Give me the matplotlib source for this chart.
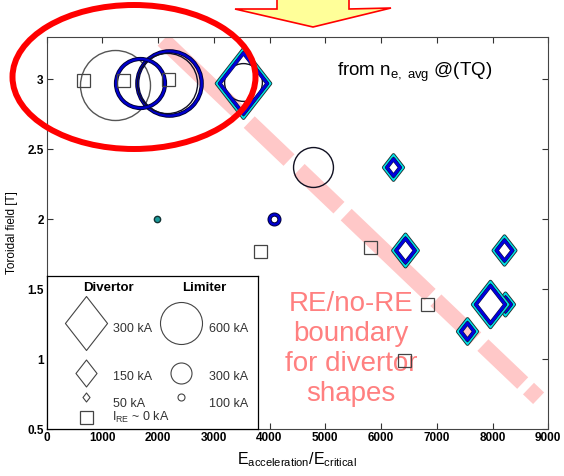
import matplotlib
matplotlib.use("Agg")
import matplotlib.pyplot as plt
import matplotlib.patches as patches
from matplotlib.path import Path

plt.rcParams['font.family'] = ['Liberation Sans', 'DejaVu Sans']
plt.rcParams['mathtext.fontset'] = 'custom'
plt.rcParams['mathtext.rm'] = 'Liberation Sans'
plt.rcParams['mathtext.it'] = 'Liberation Sans:italic'

# limiter shots (circles), size ~ I_RE in kA
lim_x = [1230, 2200, 2163, 1680, 3520, 4780, 4083, 1984]
lim_y = [2.96, 2.97, 2.97, 2.97, 2.98, 2.37, 2.00, 2.00]
lim_ka = [1000, 980, 860, 760, 540, 570, 200, 90]
lim_kind = ['thin', 'bold', 'thin', 'bold', 'thin', 'thin', 'bold', 'dot']

# divertor shots (diamonds); the 8230 one sits behind the 7950 one
div_x = [3520, 6215, 6436, 8214, 8230, 7950, 7544]
div_y = [2.97, 2.37, 1.78, 1.78, 1.39, 1.39, 1.20]
div_ka = [400, 155, 195, 175, 140, 270, 155]
div_fill = ['none', 'none', 'none', 'none', 'none', 'white', 'none']

# shots with I_RE ~ 0
zero_x = [650, 1373, 2180, 3833, 5795, 6826, 6406]
zero_y = [2.99, 2.99, 3.00, 1.77, 1.80, 1.39, 0.99]

# hand drawn RE/no-RE boundary
bound_x = [2092, 8878]
bound_y = [3.279, 0.70]

xticks = [0, 1000, 2000, 3000, 4000, 5000, 6000, 7000, 8000, 9000]
yticks = [0.5, 1, 1.5, 2, 2.5, 3]

PX = 0.72  # points per pixel at dpi 100
DIA_PX_PER_KA = 0.18
CIR_PX_PER_KA = 0.07

diamond = Path([(0, 1), (0.78, 0), (0, -1), (-0.78, 0), (0, 1)],
               [Path.MOVETO, Path.LINETO, Path.LINETO, Path.LINETO, Path.CLOSEPOLY])

fig = plt.figure(figsize=(5.64, 4.76), dpi=100)
ax = fig.add_axes([46.5 / 564, 47 / 476, 501.8 / 564, 392 / 476])
ax.set_xlim(0, 9000)
ax.set_ylim(0.5, 3.3)

# boundary line (under the markers)
lw = 11.5
dash_px = [105, 14, 55, 14, 55, 10, 116, 8, 55, 10, 55, 8, 14, 60]
ax.plot(bound_x, bound_y, color='#ffc8c8', lw=lw, solid_capstyle='butt',
        dash_capstyle='butt', dashes=[d * PX / lw for d in dash_px], zorder=1)

for x, y, ka, kind in zip(lim_x, lim_y, lim_ka, lim_kind):
    s = ka * CIR_PX_PER_KA * PX
    if kind == 'thin':
        col = '#555555' if ka >= 1000 else '#111122'
        ax.plot(x, y, 'o', ms=s, mfc='none', mec=col, mew=1.0, zorder=3)
    elif kind == 'bold':
        ax.plot(x, y, 'o', ms=s - 3, mfc='none', mec='#000033', mew=3.0, zorder=3)
        ax.plot(x, y, 'o', ms=s - 3, mfc='none', mec='#0000cc', mew=1.7, zorder=3)
    else:
        ax.plot(x, y, 'o', ms=s, mfc='#1a9a9a', mec='#113333', mew=1.0, zorder=3)

for x, y, ka, fc in zip(div_x, div_y, div_ka, div_fill):
    s = ka * DIA_PX_PER_KA * PX
    ax.plot(x, y, marker=diamond, ms=s - 2, mfc=fc, mec='#203030', mew=2.6, zorder=3)
    ax.plot(x, y, marker=diamond, ms=s - 2, mfc='none', mec='#00e0e8', mew=1.3, zorder=3)
    ax.plot(x, y, marker=diamond, ms=s - 8, mfc='none', mec='#101040', mew=2.8, zorder=3)
    ax.plot(x, y, marker=diamond, ms=s - 8, mfc='none', mec='#0000dd', mew=2.0, zorder=3)

ax.plot(zero_x, zero_y, 's', ms=13 * PX, mfc='none', mec='#444444', mew=0.9,
        ls='none', zorder=4)

ax.text(5215, 3.02, r'from n$_{\mathrm{e,\ avg}}$ @(TQ)', fontsize=13.5, ha='left',
        va='baseline')
ax.text(5467, 1.07, 'RE/no-RE\nboundary\nfor divertor\nshapes', color='#ff8080',
        fontsize=20, ha='center', va='center', linespacing=1.2, zorder=2)

ax.set_xticks(xticks)
ax.set_yticks(yticks)
ax.set_xticklabels([str(t) for t in xticks], fontweight='bold', fontsize=8.5)
ax.set_yticklabels(['0.5', '1', '1.5', '2', '2.5', '3'], fontweight='bold', fontsize=8.5)
ax.tick_params(direction='in', length=4, width=0.8, top=True, right=True, pad=2,
               colors='#333333', labelcolor='black')
for sp in ax.spines.values():
    sp.set_color('#444444')
    sp.set_linewidth(0.8)

ax.set_xlabel(r'E$_{\mathrm{acceleration}}$/E$_{\mathrm{critical}}$', fontsize=11.5)
ax.xaxis.set_label_coords(0.5, -0.055)
ax.xaxis.label.set_va('top')
ax.set_ylabel('Toroidal field [T]', fontsize=8.5)
ax.yaxis.set_label_coords(-0.056, 0.5)

# hand made legend box
lg = fig.add_axes([46.5 / 564, 47 / 476, 211.5 / 564, 153.3 / 476], zorder=5)
lg.set_xlim(0, 211.5)
lg.set_ylim(153.3, 0)
lg.set_xticks([])
lg.set_yticks([])
for sp in lg.spines.values():
    sp.set_color('black')
    sp.set_linewidth(0.9)

lg.text(61.5, 12.3, 'Divertor', fontsize=9.5, fontweight='bold', ha='center', va='center')
lg.text(157.5, 12.3, 'Limiter', fontsize=9.5, fontweight='bold', ha='center', va='center')

leg_div_ka = [300, 150, 50]
leg_lim_ka = [600, 300, 100]
leg_rows_y = [47.3, 97.3, 121.3]
leg_text_y = [53.3, 101.3, 128.3]
for ka, yy, ty in zip(leg_div_ka, leg_rows_y, leg_text_y):
    lg.plot(39.5, yy, marker=diamond, ms=ka * DIA_PX_PER_KA * PX, mfc='none',
            mec='#444444', mew=0.8)
    lg.text(66.5, ty, f'{ka} kA', fontsize=9, ha='left', va='center', color='#333333')
for ka, yy, ty in zip(leg_lim_ka, leg_rows_y, leg_text_y):
    lg.plot(134.5, yy - 0.5, 'o', ms=ka * CIR_PX_PER_KA * PX, mfc='none',
            mec='#444444', mew=0.8)
    lg.text(162.5, ty, f'{ka} kA', fontsize=9, ha='left', va='center', color='#333333')
lg.plot(39.5, 141.3, 's', ms=13 * PX, mfc='none', mec='#444444', mew=0.9)
lg.text(65.5, 141.3, r'I$_{\mathrm{RE}}$ ~ 0 kA', fontsize=9, ha='left', va='center',
        color='#333333')

# red ellipse around the limiter shots
W, H = 564.0, 476.0
ell = patches.Ellipse((134 / W, 1 - 77 / H), 243 / W, 144 / H, transform=fig.transFigure,
                      facecolor='none', edgecolor='#ff0000', lw=4.3, zorder=10)
fig.add_artist(ell)

# yellow arrow at the top
arrow_px = [(277, -5), (349, -5), (349, 9), (391, 8), (313, 27), (235, 9), (277, 9)]
arrow = patches.Polygon([(px / W, 1 - py / H) for px, py in arrow_px], closed=True,
                        transform=fig.transFigure, facecolor='#ffff99',
                        edgecolor='#ff0000', lw=1.2, zorder=10)
fig.add_artist(arrow)

fig.savefig('out.png', dpi=100)
